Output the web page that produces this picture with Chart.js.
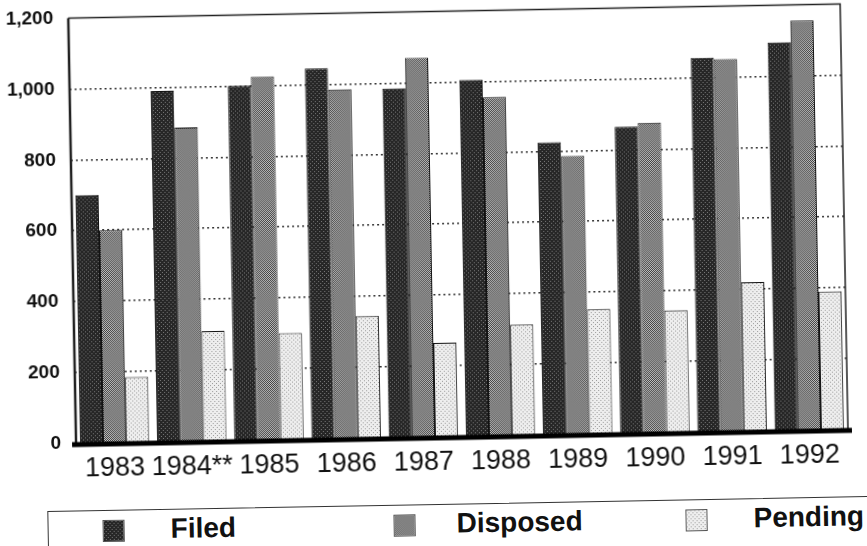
<!DOCTYPE html>
<html>
<head>
<meta charset="utf-8">
<script src="https://cdn.jsdelivr.net/npm/chart.js@4.4.1/dist/chart.umd.min.js"></script>
<style>
  html, body { margin: 0; padding: 0; background: #fff; overflow: hidden; }
  #page {
    position: relative; width: 867px; height: 546px; background: #fff; overflow: hidden;
    transform: rotate(-1.05deg); transform-origin: 433px 273px;
  }
  #wrap { position: absolute; left: 0; top: -15px; width: 867px; height: 510px; }
  #legend {
    position: absolute; left: 43px; top: 504px; width: 860px; height: 44px;
    border: 1.5px solid #333; box-sizing: border-box;
    font-family: "Liberation Sans", Arial, sans-serif; font-weight: bold; font-size: 28px; color: #111;
  }
  .sw { position: absolute; top: 9px; width: 22px; height: 22px; box-sizing: border-box; border: 1px solid #555; }
  .lb { position: absolute; top: 4px; line-height: 30px; }
</style>
</head>
<body>
<div id="page">
  <div id="wrap"><canvas id="barChart"></canvas></div>
  <div id="legend">
    <div class="sw" id="sw0" style="left:54px"></div><div class="lb" style="left:122px">Filed</div>
    <div class="sw" id="sw1" style="left:345px"></div><div class="lb" style="left:408px">Disposed</div>
    <div class="sw" id="sw2" style="left:637px"></div><div class="lb" style="left:705px">Pending</div>
  </div>
</div>
<script>
const years = ['1983', '1984**', '1985', '1986', '1987', '1988', '1989', '1990', '1991', '1992'];
const filed = [700, 990, 1000, 1045, 985, 1005, 825, 865, 1055, 1095];
const disposed = [600, 885, 1025, 985, 1070, 955, 785, 875, 1050, 1155];
const pending = [185, 310, 300, 345, 265, 312, 352, 345, 420, 390];
const yTicks = [0, 200, 400, 600, 800, 1000, 1200];

// trama de semitono para cada serie
function crearTrama(fondo, punto, celdas) {
  const c = document.createElement('canvas');
  c.width = 4; c.height = 4;
  const g = c.getContext('2d');
  g.fillStyle = fondo;
  g.fillRect(0, 0, 4, 4);
  g.fillStyle = punto;
  celdas.forEach(([x, y]) => g.fillRect(x, y, 1, 1));
  return c;
}

const tramas = [
  crearTrama('#262626', '#7a7a7a', [[0, 0], [2, 2]]),
  crearTrama('#c4c4c4', '#3e3e3e', [[0, 0], [2, 0], [1, 1], [3, 1], [0, 2], [2, 2], [1, 3], [3, 3]]),
  crearTrama('#eeeeee', '#999999', [[0, 0], [2, 2]])
];

const ctx = document.getElementById('barChart').getContext('2d');
const patrones = tramas.map(t => ctx.createPattern(t, 'repeat'));

tramas.forEach((t, i) => {
  document.getElementById('sw' + i).style.background = 'url(' + t.toDataURL() + ')';
});

// marco del area de trazado
const marco = {
  id: 'marco',
  afterDatasetsDraw(chart) {
    const { ctx, chartArea: a } = chart;
    ctx.save();
    ctx.strokeStyle = '#222';
    ctx.lineWidth = 1.5;
    ctx.beginPath();
    ctx.moveTo(a.left, a.top);
    ctx.lineTo(a.right, a.top);
    ctx.lineTo(a.right, a.bottom);
    ctx.stroke();
    ctx.lineWidth = 2.5;
    ctx.beginPath();
    ctx.moveTo(a.left, a.top);
    ctx.lineTo(a.left, a.bottom);
    ctx.stroke();
    ctx.strokeStyle = '#000';
    ctx.lineWidth = 5;
    ctx.beginPath();
    ctx.moveTo(a.left - 4, a.bottom + 1);
    ctx.lineTo(a.right + 4, a.bottom + 1);
    ctx.stroke();
    ctx.restore();
  }
};

new Chart(ctx, {
  type: 'bar',
  data: {
    labels: years,
    datasets: [
      { label: 'Filed', data: filed, backgroundColor: patrones[0] },
      { label: 'Disposed', data: disposed, backgroundColor: patrones[1] },
      { label: 'Pending', data: pending, backgroundColor: patrones[2] }
    ].map(d => Object.assign(d, { borderColor: '#111', borderWidth: 1, categoryPercentage: 0.9, barPercentage: 1.0 }))
  },
  options: {
    responsive: true,
    maintainAspectRatio: false,
    animation: false,
    layout: { padding: { top: 0, right: 22, left: 0, bottom: 0 } },
    plugins: { legend: { display: false }, tooltip: { enabled: false } },
    scales: {
      x: {
        grid: { display: false, drawTicks: false },
        border: { display: false },
        ticks: {
          color: '#111', padding: 9, maxRotation: 0, autoSkip: false,
          font: { family: '"Liberation Sans", Arial, sans-serif', size: 27 }
        },
        afterFit: s => { s.height = 58; }
      },
      y: {
        min: 0, max: 1200,
        afterBuildTicks: s => { s.ticks = yTicks.map(v => ({ value: v })); },
        grid: {
          drawTicks: false,
          color: c => (c.tick.value === 0 || c.tick.value === 1200) ? 'rgba(0,0,0,0)' : '#333',
          lineWidth: 1.5
        },
        border: { display: false, dash: [2, 3] },
        ticks: {
          color: '#111', padding: 15,
          font: { family: '"Liberation Sans", Arial, sans-serif', size: 19, weight: 'bold' },
          callback: v => v.toLocaleString('en-US')
        },
        afterFit: s => { s.width = 73; }
      }
    }
  },
  plugins: [marco]
});
</script>
</body>
</html>
